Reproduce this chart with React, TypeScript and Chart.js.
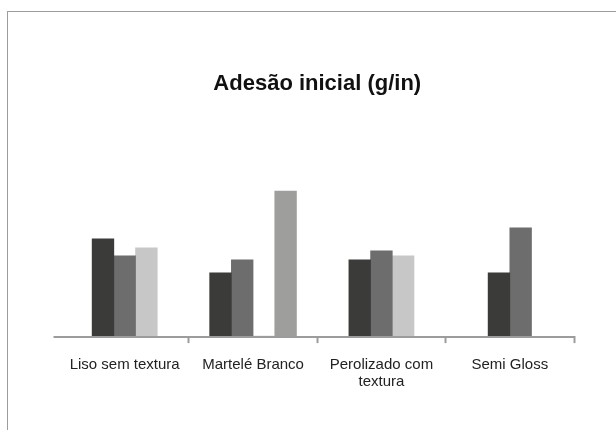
import React, { useEffect, useRef } from "react";
import { Chart, registerables } from "chart.js";

Chart.register(...registerables);

const categories: (string | string[])[] = [
  "Liso sem textura",
  "Martelé Branco",
  ["Perolizado com", "textura"],
  "Semi Gloss",
];
const serie1: (number | null)[] = [488, 318, 383, 318];
const serie2: (number | null)[] = [403, 383, 428, 543];
const serie3: (number | null)[] = [443, 0, 403, null];
const serie4: (number | null)[] = [null, 728, null, null];
const titleText = "Adesão inicial (g/in)";
const yMax = 1148;

const axisLinePlugin = {
  id: "axisLine",
  beforeDatasetsDraw(chart: any) {
    const { ctx, chartArea } = chart;
    ctx.save();
    ctx.strokeStyle = "#9c9c9c";
    ctx.lineWidth = 2;
    ctx.beginPath();
    ctx.moveTo(chartArea.left - 7, chartArea.bottom + 1);
    ctx.lineTo(chartArea.right + 1, chartArea.bottom + 1);
    ctx.stroke();
    ctx.restore();
  },
};

export default function App() {
  const ref = useRef<HTMLCanvasElement | null>(null);
  useEffect(() => {
    if (!ref.current) return;
    const font = "'Liberation Sans', Arial, Helvetica, sans-serif";
    const chart = new Chart(ref.current, {
      type: "bar",
      data: {
        labels: categories,
        datasets: [
          { label: "Série 1", data: serie1, backgroundColor: "#3b3b39" },
          { label: "Série 2", data: serie2, backgroundColor: "#6d6d6d" },
          { label: "Série 3", data: serie3, backgroundColor: "#c7c7c7" },
          { label: "Série 4", data: serie4, backgroundColor: "#9e9e9c" },
        ],
      },
      options: {
        animation: false,
        responsive: true,
        maintainAspectRatio: false,
        skipNull: true,
        barThickness: 21.7,
        layout: { padding: { left: 60.5, right: 42, top: 61, bottom: 26.7 } },
        plugins: {
          legend: { display: false },
          tooltip: { enabled: false },
          title: {
            display: true,
            text: titleText,
            color: "#111",
            font: { family: font, size: 22, weight: "bold", lineHeight: 1.2 },
            padding: { top: 10, bottom: 10 },
          },
        },
        scales: {
          x: {
            border: { display: false },
            grid: {
              display: true,
              drawOnChartArea: false,
              drawTicks: true,
              tickLength: 7,
              tickWidth: 2,
              tickColor: (c: any) => (c.index === 0 ? "rgba(0,0,0,0)" : "#9c9c9c"),
            },
            ticks: {
              color: "#222",
              padding: 13.6,
              maxRotation: 0,
              autoSkip: false,
              font: { family: font, size: 15, lineHeight: 1.1 },
            },
          },
          y: {
            display: false,
            min: 0,
            max: yMax,
          },
        },
      } as any,
      plugins: [axisLinePlugin],
    });
    return () => chart.destroy();
  }, []);

  return (
    <div style={{ position: "fixed", left: 0, top: 0, width: 616, height: 430, overflow: "hidden", background: "#fff" }}>
      <div
        style={{
          position: "absolute",
          left: 7,
          top: 11,
          width: 700,
          height: 500,
          border: "1.5px solid #9c9c9c",
          boxSizing: "border-box",
        }}
      />
      <div style={{ position: "absolute", left: 0, top: 0, width: 616, height: 430 }}>
        <canvas ref={ref} />
      </div>
    </div>
  );
}
